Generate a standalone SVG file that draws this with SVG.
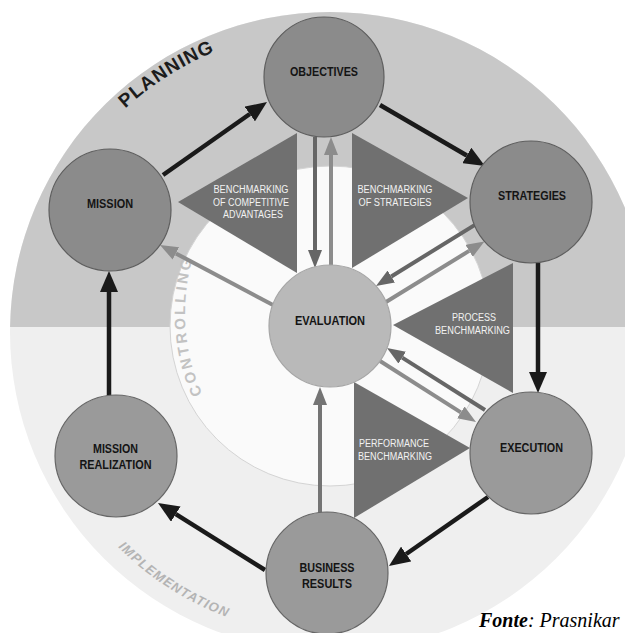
<svg xmlns="http://www.w3.org/2000/svg" width="625" height="633" viewBox="0 0 625 633">
<style>
.node{stroke-width:1.2}
.top{fill:#8b8b8b;stroke:#5e5e5e}
.bot{fill:#9a9a9a;stroke:#666}
.ev{fill:#b9b9b9;stroke:#a6a6a6}
.lbl{font-family:"Liberation Sans",Arial,sans-serif;font-weight:bold;font-size:12px;fill:#141414;text-anchor:middle}
.tri{fill:#707070}
.tl{font-family:"Liberation Sans",Arial,sans-serif;font-size:10px;fill:#f2f2f2;text-anchor:middle}
.blk{stroke:#1a1a1a;stroke-width:4.5;fill:none;marker-end:url(#hb)}
.dk{stroke:#666;stroke-width:4;fill:none;marker-end:url(#hd)}
.lt{stroke:#8c8c8c;stroke-width:4;fill:none;marker-end:url(#hl)}
.md{stroke:#747474;stroke-width:4;fill:none;marker-end:url(#hm)}
</style>
<defs>
<marker id="hb" markerUnits="userSpaceOnUse" markerWidth="21" markerHeight="18" refX="0" refY="9" orient="auto" viewBox="0 0 21 18"><path d="M0,0 L21,9 L0,18 Z" fill="#1a1a1a"/></marker>
<marker id="hd" markerUnits="userSpaceOnUse" markerWidth="18" markerHeight="14" refX="0" refY="7" orient="auto" viewBox="0 0 18 14"><path d="M0,0 L18,7 L0,14 Z" fill="#666"/></marker>
<marker id="hl" markerUnits="userSpaceOnUse" markerWidth="18" markerHeight="14" refX="0" refY="7" orient="auto" viewBox="0 0 18 14"><path d="M0,0 L18,7 L0,14 Z" fill="#8c8c8c"/></marker>
<marker id="hm" markerUnits="userSpaceOnUse" markerWidth="18" markerHeight="14" refX="0" refY="7" orient="auto" viewBox="0 0 18 14"><path d="M0,0 L18,7 L0,14 Z" fill="#747474"/></marker>
<path id="pPlan" d="M125.3,108.6 A303,303 0 0 1 330,29"/>
<path id="pCtrl" d="M202.2,393.9 A199,199 0 0 1 197,244.9"/>
<path id="pImpl" d="M118,547 A304,304 0 0 0 277,631"/>
</defs>

<g id="background">
<circle cx="330" cy="332" r="320" fill="#efefef"/>
<path d="M10.04,327 A320,320 0 0 1 649.96,327 Z" fill="#c8c8c8"/>
<circle cx="330" cy="326" r="160" fill="#fafafa" stroke="#d4d4d4" stroke-width="1"/>
</g>

<g id="phase-labels">
<text font-family="'Liberation Sans',Arial,sans-serif" font-weight="bold" font-size="19" fill="#1c1c1c"><textPath href="#pPlan" textLength="106">PLANNING</textPath></text>
<text font-family="'Liberation Sans',Arial,sans-serif" font-weight="bold" font-size="15" fill="#c2c2c2"><textPath href="#pCtrl" textLength="137">CONTROLLING</textPath></text>
<text font-family="'Liberation Sans',Arial,sans-serif" font-weight="bold" font-style="italic" font-size="13" fill="#b4b4b4"><textPath href="#pImpl" textLength="130">IMPLEMENTATION</textPath></text>
</g>

<g id="bench-competitive">
<polygon class="tri" points="178,202 297,133 297,273"/>
<text class="tl"><tspan x="251" y="193" textLength="75" lengthAdjust="spacingAndGlyphs">BENCHMARKING</tspan><tspan x="251" y="206" textLength="76" lengthAdjust="spacingAndGlyphs">OF COMPETITIVE</tspan><tspan x="253" y="218" textLength="60" lengthAdjust="spacingAndGlyphs">ADVANTAGES</tspan></text>
</g>
<g id="bench-strategies">
<polygon class="tri" points="352,133 352,268 468,198"/>
<text class="tl"><tspan x="395" y="193" textLength="75" lengthAdjust="spacingAndGlyphs">BENCHMARKING</tspan><tspan x="395" y="206" textLength="73" lengthAdjust="spacingAndGlyphs">OF STRATEGIES</tspan></text>
</g>
<g id="bench-process">
<polygon class="tri" points="393,325 513,263 513,393"/>
<text class="tl"><tspan x="474" y="321" textLength="44" lengthAdjust="spacingAndGlyphs">PROCESS</tspan><tspan x="472.5" y="333.5" textLength="75" lengthAdjust="spacingAndGlyphs">BENCHMARKING</tspan></text>
</g>
<g id="bench-performance">
<polygon class="tri" points="354,382 354,518 470,448"/>
<text class="tl"><tspan x="394" y="447" textLength="70" lengthAdjust="spacingAndGlyphs">PERFORMANCE</tspan><tspan x="395" y="460" textLength="74" lengthAdjust="spacingAndGlyphs">BENCHMARKING</tspan></text>
</g>

<g id="connectors">
<line class="blk" x1="163" y1="175" x2="249.8" y2="114"/>
<line class="blk" x1="380" y1="105" x2="466.8" y2="155.5"/>
<line class="blk" x1="538" y1="263" x2="538" y2="372"/>
<line class="blk" x1="488" y1="497" x2="406.2" y2="554"/>
<line class="blk" x1="265" y1="570" x2="175.8" y2="514.1"/>
<line class="blk" x1="109" y1="396" x2="109" y2="292"/>
<line class="dk" x1="315" y1="137" x2="315" y2="250"/>
<line class="lt" x1="331" y1="265" x2="331" y2="155"/>
<line class="dk" x1="474.5" y1="225.1" x2="391.3" y2="276.5"/>
<line class="lt" x1="386" y1="302" x2="469.1" y2="250.9"/>
<line class="dk" x1="485" y1="410" x2="402.2" y2="357.6"/>
<line class="lt" x1="380" y1="361" x2="460.8" y2="412.4"/>
<line class="md" x1="320" y1="513" x2="320" y2="405"/>
<line class="lt" x1="273" y1="305" x2="175.9" y2="253.4"/>
</g>

<g id="node-objectives">
<circle class="node top" cx="324" cy="77" r="60"/>
<text class="lbl" x="324" y="75.5" textLength="68" lengthAdjust="spacingAndGlyphs">OBJECTIVES</text>
</g>
<g id="node-strategies">
<circle class="node top" cx="531" cy="202" r="61"/>
<text class="lbl" x="532" y="199.5" textLength="68" lengthAdjust="spacingAndGlyphs">STRATEGIES</text>
</g>
<g id="node-mission">
<circle class="node top" cx="110" cy="210" r="61"/>
<text class="lbl" x="110" y="207.5" textLength="46" lengthAdjust="spacingAndGlyphs">MISSION</text>
</g>
<g id="node-evaluation">
<circle class="node ev" cx="330" cy="326" r="61"/>
<text class="lbl" x="330" y="324.5" textLength="70" lengthAdjust="spacingAndGlyphs">EVALUATION</text>
</g>
<g id="node-execution">
<circle class="node bot" cx="531" cy="453" r="61"/>
<text class="lbl" x="531.5" y="451.5" textLength="63" lengthAdjust="spacingAndGlyphs">EXECUTION</text>
</g>
<g id="node-business-results">
<circle class="node bot" cx="327" cy="573" r="61"/>
<text class="lbl"><tspan x="327" y="571.5" textLength="55" lengthAdjust="spacingAndGlyphs">BUSINESS</tspan><tspan x="327" y="587.5" textLength="50" lengthAdjust="spacingAndGlyphs">RESULTS</tspan></text>
</g>
<g id="node-mission-realization">
<circle class="node bot" cx="116" cy="456" r="61"/>
<text class="lbl"><tspan x="115.5" y="452.5" textLength="45" lengthAdjust="spacingAndGlyphs">MISSION</tspan><tspan x="115.5" y="468.5" textLength="72" lengthAdjust="spacingAndGlyphs">REALIZATION</tspan></text>
</g>

<text x="479" y="627" font-family="'Liberation Serif','Times New Roman',serif" font-size="20" font-style="italic" fill="#000"><tspan font-weight="bold">Fonte</tspan><tspan>: Prasnikar</tspan></text>
</svg>
